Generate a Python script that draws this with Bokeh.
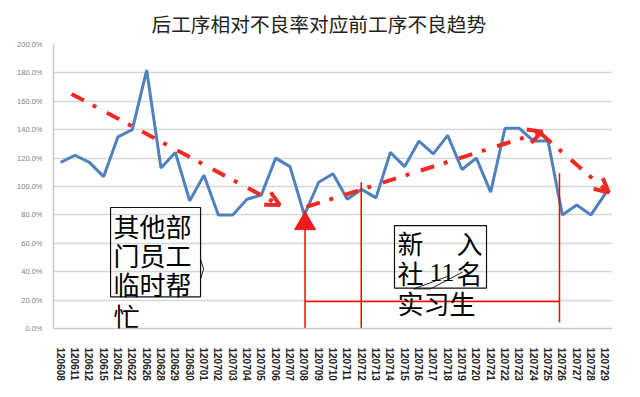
from bokeh.plotting import figure
from bokeh.models import (Range1d, FixedTicker, PrintfTickFormatter, Arrow, OpenHead,
                          Label, BoxAnnotation, Title)
from bokeh.embed import file_html
from bokeh.resources import INLINE

# ---------------- data ----------------
dates = ["120608", "120611", "120612", "120615", "120621", "120622", "120626", "120628",
         "120629", "120630", "120701", "120702", "120703", "120704", "120705", "120706",
         "120707", "120708", "120709", "120710", "120711", "120712", "120713", "120714",
         "120715", "120716", "120717", "120718", "120719", "120720", "120721", "120722",
         "120723", "120724", "120725", "120726", "120727", "120728", "120729"]
rate = [117, 122, 117, 107, 135, 140, 182, 113, 124, 90, 108, 80, 80, 91, 94, 120,
        114, 80, 103, 109, 91, 98, 92, 124, 114, 132, 123, 136, 112, 120, 96, 141,
        141, 132, 132, 80, 87, 80, 95]
y_ticks = [0, 20, 40, 60, 80, 100, 120, 140, 160, 180, 200]

# trend arrows (category index, percent)
trend_x0 = [0.76, 17.15, 33.5]
trend_y0 = [165.2, 85.6, 137.3]
trend_x1 = [15.29, 33.6, 38.24]
trend_y1 = [86.9, 138.5, 95.7]

# red marker lines
marker_x = [17.05]
marker_y = [73.9]
vline_x = [17.05, 20.97, 34.8]
vline_top = [75.0, 103.0, 109.4]
vline_bottom = [0.0, 0.0, 4.2]
hline_y = [19.0]
hline_x0 = [17.05]
hline_x1 = [34.8]

# annotation texts
note1_lines = ["其他部", "门员工", "临时帮", "忙"]
note1_x = [3.69, 3.69, 3.69, 3.69]
note1_y = [72.8, 52.3, 31.7, 9.1]
note1_box = dict(left=3.48, right=9.76, top=85.2, bottom=22.3)
note1_brace_x = [9.76, 9.97, 9.76]
note1_brace_y = [48.8, 41.8, 34.8]

note2_words = ["新", "入", "社", "11", "名", "实习生"]
note2_x = [23.5, 27.61, 23.5, 25.73, 27.61, 23.5]
note2_y = [60.3, 60.3, 39.7, 39.7, 39.7, 18.5]
note2_box = dict(left=23.29, right=29.71, top=72.5, bottom=28.4)
note2_zig_x = [27.06, 24.62, 25.8, 28.04]
note2_zig_y = [36.9, 27.9, 27.9, 39.7]

idx = list(range(len(dates)))

# ---------------- figure ----------------
p = figure(width=632, height=389, output_backend="svg", toolbar_location=None,
           x_range=Range1d(-0.5, len(dates) - 0.5), y_range=Range1d(0, 200),
           min_border_left=53, min_border_right=20, min_border_top=41, min_border_bottom=61)
p.outline_line_color = None
p.background_fill_color = "white"
p.border_fill_color = "white"

title = Title(text="后工序相对不良率对应前工序不良趋势", align="left", offset=98,
              text_font="Noto Sans CJK SC", text_font_size="19.7px",
              text_font_style="normal", text_color="#222222", standoff=13)
p.add_layout(title, "above")

p.xgrid.grid_line_color = None
p.ygrid.grid_line_color = "#d6d6d6"
p.ygrid.grid_line_width = 1.5
p.ygrid.ticker = FixedTicker(ticks=y_ticks)

p.yaxis.ticker = FixedTicker(ticks=y_ticks)
p.yaxis.formatter = PrintfTickFormatter(format="%.1f%%")
p.yaxis.major_label_text_font = "Liberation Sans"
p.yaxis.major_label_text_font_size = "7.5px"
p.yaxis.major_label_text_color = "#808080"
p.yaxis.major_label_standoff = 5
p.yaxis.major_tick_line_color = None
p.yaxis.minor_tick_line_color = None
p.yaxis.axis_line_color = "#c8c8c8"
p.yaxis.axis_line_width = 1.5

p.xaxis.ticker = FixedTicker(ticks=idx)
p.xaxis.major_label_overrides = {i: d for i, d in zip(idx, dates)}
p.xaxis.major_label_orientation = "vertical"
p.xaxis.major_label_text_font = "Liberation Sans"
p.xaxis.major_label_text_font_size = "10px"
p.xaxis.major_label_text_font_style = "bold"
p.xaxis.major_label_text_color = "#222222"
p.xaxis.major_label_standoff = 13
p.xaxis.major_tick_line_color = None
p.xaxis.minor_tick_line_color = None
p.xaxis.axis_line_color = "#c8c8c8"
p.xaxis.axis_line_width = 1.5

# main series
p.line(idx, rate, line_color="#4f81bd", line_width=3)

# trend arrows
RED = "#ee2a24"
for x0, y0, x1, y1 in zip(trend_x0, trend_y0, trend_x1, trend_y1):
    p.add_layout(Arrow(x_start=x0, y_start=y0, x_end=x1, y_end=y1,
                       line_color=RED, line_width=4, line_dash="14 10 4 12",
                       end=OpenHead(line_color=RED, line_width=4, size=14)))

# red thin lines + triangle marker
p.segment(x0=vline_x, y0=vline_bottom, x1=vline_x, y1=vline_top,
          line_color="#ff0000", line_width=1.5)
p.segment(x0=hline_x0, y0=hline_y, x1=hline_x1, y1=hline_y,
          line_color="#ff0000", line_width=1.5)
p.scatter(marker_x, marker_y, marker="triangle", size=21,
          fill_color="#ee1c1c", line_color="#ee1c1c")

# note 1
p.add_layout(BoxAnnotation(fill_color=None, fill_alpha=0, line_color="#111111",
                           line_alpha=1.0, line_width=1.2, **note1_box))
p.line(note1_brace_x, note1_brace_y, line_color="#222222", line_width=1)
for t, x, y in zip(note1_lines, note1_x, note1_y):
    p.add_layout(Label(x=x, y=y, text=t, text_font="Noto Sans CJK SC",
                       text_font_size="26px", text_color="black",
                       text_baseline="middle", text_align="left"))

# note 2
p.add_layout(BoxAnnotation(fill_color=None, fill_alpha=0, line_color="#111111",
                           line_alpha=1.0, line_width=1.2, **note2_box))
for t, x, y in zip(note2_words, note2_x, note2_y):
    font = "Liberation Serif" if t.isdigit() else "Noto Sans CJK SC"
    p.add_layout(Label(x=x, y=y, text=t, text_font=font,
                       text_font_size="26px", text_color="black",
                       text_baseline="middle", text_align="left"))
p.line(note2_zig_x, note2_zig_y, line_color="#222222", line_width=1)

open("out.html", "w").write(file_html(p, INLINE))
